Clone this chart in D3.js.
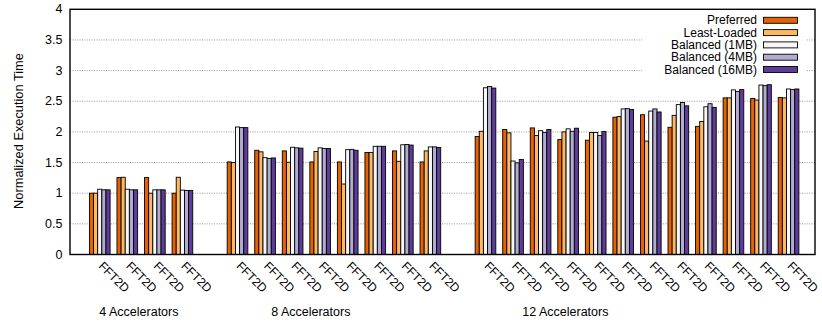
<!DOCTYPE html>
<html>
<head>
<meta charset="utf-8">
<script src="https://cdn.jsdelivr.net/npm/d3@7/dist/d3.min.js"></script>
<style>
  html, body { margin: 0; padding: 0; background: #fff; }
  svg { display: block; }
  text { font-family: "Liberation Sans", Arial, Helvetica, sans-serif; fill: #000; }
</style>
</head>
<body>
<svg id="chart" width="822" height="322"></svg>
<script>
// Benchmark groups: FFT2D runs on 4, 8 and 12 accelerators
const accelCounts = [4, 8, 12];
const benchmark = "FFT2D";
const groupCaptions = ["4 Accelerators", "8 Accelerators", "12 Accelerators"];
const captionSlots = [1.42, 7.66, 16.9];

const seriesNames = ["Preferred", "Least-Loaded", "Balanced (1MB)", "Balanced (4MB)", "Balanced (16MB)"];
const seriesColors = ["#e66101", "#fdb863", "#f7f7f7", "#b2abd2", "#5e3c99"];

// Normalized execution time per run (4 / 8 / 12 accelerator runs in order)
const preferred   = [1.00, 1.255, 1.255, 1.00,
                     1.51, 1.70, 1.69, 1.51, 1.51, 1.665, 1.69, 1.51,
                     1.925, 2.04, 2.065, 1.875, 1.865, 2.24, 2.28, 2.075, 2.09, 2.555, 2.545, 2.56];
const leastLoaded = [1.00, 1.26, 1.00, 1.26,
                     1.50, 1.675, 1.505, 1.68, 1.15, 1.665, 1.52, 1.69,
                     2.01, 1.985, 1.94, 2.00, 1.99, 2.25, 1.85, 2.27, 2.17, 2.555, 2.52, 2.555];
const balanced1MB = [1.065, 1.065, 1.055, 1.05,
                     2.08, 1.58, 1.75, 1.74, 1.71, 1.765, 1.79, 1.755,
                     2.72, 1.525, 2.02, 2.05, 1.99, 2.375, 2.34, 2.445, 2.41, 2.685, 2.765, 2.70];
const balanced4MB = [1.055, 1.055, 1.055, 1.045,
                     2.07, 1.565, 1.74, 1.73, 1.715, 1.765, 1.795, 1.755,
                     2.74, 1.495, 1.99, 2.01, 1.94, 2.38, 2.375, 2.48, 2.46, 2.66, 2.755, 2.69];
const balanced16MB = [1.055, 1.055, 1.055, 1.045,
                      2.07, 1.575, 1.735, 1.73, 1.70, 1.765, 1.785, 1.745,
                      2.715, 1.55, 2.04, 2.06, 2.005, 2.365, 2.325, 2.425, 2.40, 2.69, 2.77, 2.70];

const yTicks = [0, 0.5, 1, 1.5, 2, 2.5, 3, 3.5, 4];
const yTickLabels = ["0", "0.5", "1", "1.5", "2", "2.5", "3", "3.5", "4"];
const yTitle = "Normalized Execution Time";

const allSeries = [preferred, leastLoaded, balanced1MB, balanced4MB, balanced16MB];

// Slot index of each run along the x axis, one empty slot between accelerator groups
const slots = [];
let s = 0;
accelCounts.forEach(n => {
  for (let i = 0; i < n; i++) slots.push(s++);
  s++;
});

const svg = d3.select("#chart");
const plot = { left: 70, right: 815, top: 9.3, bottom: 254.5 };

const x = d3.scaleLinear().domain([-1.08, 25.96]).range([plot.left, plot.right]);
const y = d3.scaleLinear().domain([0, 4]).range([plot.bottom, plot.top]);
const slotW = x(1) - x(0);
const inner = d3.scaleBand().domain(d3.range(seriesNames.length))
  .range([-0.375 * slotW, 0.375 * slotW]);

// Grid lines
svg.append("g").selectAll("line")
  .data(yTicks.filter(t => t > 0 && t < 4))
  .join("line")
  .attr("x1", plot.left).attr("x2", plot.right)
  .attr("y1", d => y(d)).attr("y2", d => y(d))
  .attr("stroke", "#8a8a8a").attr("stroke-width", 0.9)
  .attr("stroke-dasharray", "1,1.4");

// Y tick labels
svg.append("g").selectAll("text")
  .data(yTicks)
  .join("text")
  .attr("x", 62.5).attr("y", d => y(d))
  .attr("text-anchor", "end").attr("dominant-baseline", "central")
  .style("font-size", "12.5px")
  .text((d, i) => yTickLabels[i]);

// Y axis title
svg.append("text")
  .attr("transform", "translate(18.5,131) rotate(-90)")
  .attr("text-anchor", "middle").attr("dominant-baseline", "central")
  .style("font-size", "12.8px")
  .text(yTitle);

// Bars
const barG = svg.append("g");
allSeries.forEach((vals, si) => {
  barG.append("g").selectAll("rect")
    .data(vals)
    .join("rect")
    .attr("x", (d, i) => x(slots[i]) + inner(si))
    .attr("y", d => y(d))
    .attr("width", inner.bandwidth())
    .attr("height", d => y(0) - y(d))
    .attr("fill", seriesColors[si])
    .attr("stroke", "#000").attr("stroke-width", 0.9);
});

// X tick labels
svg.append("g").selectAll("text")
  .data(slots)
  .join("text")
  .attr("transform", d => `translate(${x(d) + 1},264) rotate(45)`)
  .attr("text-anchor", "start").attr("dominant-baseline", "central")
  .style("font-size", "12px")
  .text(benchmark);

// Group captions
svg.append("g").selectAll("text")
  .data(groupCaptions)
  .join("text")
  .attr("x", (d, i) => x(captionSlots[i])).attr("y", 316)
  .attr("text-anchor", "middle")
  .style("font-size", "12.5px")
  .text(d => d);

// Legend
const legend = svg.append("g");
legend.append("rect")
  .attr("x", 642).attr("y", 11).attr("width", 164).attr("height", 66)
  .attr("fill", "#fff");
seriesNames.forEach((name, i) => {
  const ry = 20.3 + i * 12.3;
  legend.append("text")
    .attr("x", 757).attr("y", ry)
    .attr("text-anchor", "end").attr("dominant-baseline", "central")
    .style("font-size", "12px")
    .text(name);
  legend.append("rect")
    .attr("x", 763.5).attr("y", ry - 3).attr("width", 34).attr("height", 6)
    .attr("fill", seriesColors[i]).attr("stroke", "#000").attr("stroke-width", 0.9);
});

// Border
svg.append("rect")
  .attr("x", plot.left).attr("y", plot.top)
  .attr("width", plot.right - plot.left).attr("height", plot.bottom - plot.top)
  .attr("fill", "none").attr("stroke", "#000").attr("stroke-width", 1.4);
</script>
</body>
</html>
